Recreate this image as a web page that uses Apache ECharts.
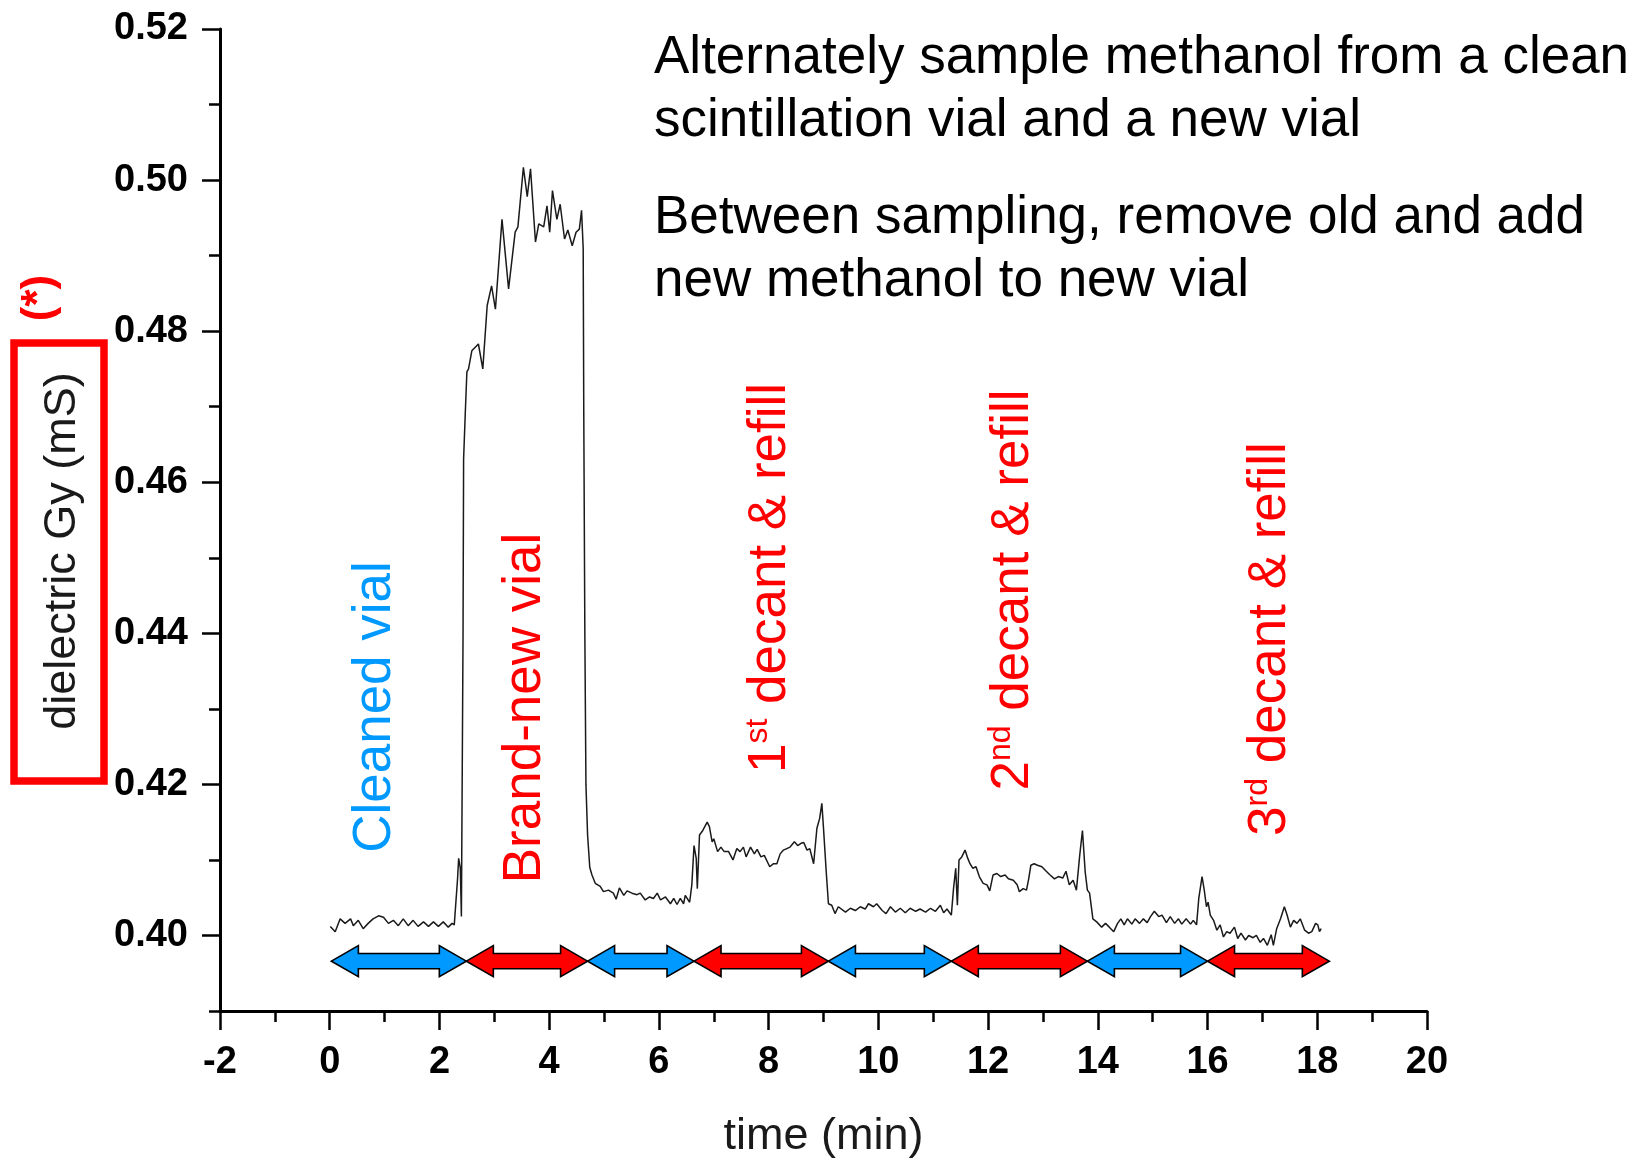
<!DOCTYPE html>
<html>
<head>
<meta charset="utf-8">
<script src="https://cdn.jsdelivr.net/npm/echarts@6/dist/echarts.min.js"></script>
<style>
  html, body { margin: 0; padding: 0; background: #fff; }
  #chart { width: 1651px; height: 1159px; }
</style>
</head>
<body>
<div id="chart"></div>
<script>
// ---- data ----
const timeMin = [
  0.01,0.10,0.19,0.28,0.38,0.43,0.52,0.61,0.70,0.79,
  0.89,0.98,1.07,1.16,1.25,1.34,1.43,1.52,1.61,1.71,
  1.80,1.89,1.98,2.07,2.16,2.23,2.27,2.33,2.35,2.38,
  2.40,2.43,2.44,2.47,2.50,2.53,2.59,2.71,2.79,2.87,
  2.95,3.02,3.14,3.26,3.38,3.43,3.53,3.60,3.66,3.75,
  3.81,3.90,3.96,4.01,4.06,4.14,4.20,4.28,4.34,4.42,
  4.49,4.55,4.59,4.62,4.63,4.65,4.67,4.70,4.74,4.78,
  4.84,4.93,4.99,5.08,5.17,5.22,5.28,5.36,5.42,5.51,
  5.60,5.66,5.75,5.83,5.90,5.97,6.03,6.12,6.21,6.27,
  6.33,6.39,6.45,6.48,6.56,6.60,6.64,6.68,6.70,6.74,
  6.80,6.88,6.92,6.97,7.00,7.07,7.13,7.19,7.27,7.35,
  7.42,7.48,7.54,7.59,7.67,7.74,7.79,7.86,7.92,8.02,
  8.09,8.15,8.21,8.27,8.33,8.39,8.47,8.53,8.59,8.64,
  8.70,8.75,8.82,8.88,8.93,8.97,9.00,9.05,9.09,9.15,
  9.21,9.27,9.40,9.49,9.58,9.67,9.76,9.82,9.91,9.97,
  10.07,10.14,10.22,10.31,10.40,10.49,10.58,10.68,10.76,10.86,
  10.95,11.04,11.13,11.19,11.25,11.33,11.37,11.41,11.44,11.47,
  11.52,11.58,11.63,11.67,11.72,11.78,11.84,11.91,11.98,12.03,
  12.09,12.16,12.23,12.31,12.37,12.46,12.53,12.57,12.64,12.70,
  12.74,12.78,12.84,12.90,12.98,13.06,13.13,13.21,13.28,13.36,
  13.42,13.48,13.55,13.61,13.67,13.72,13.77,13.81,13.85,13.91,
  13.98,14.07,14.14,14.21,14.29,14.36,14.42,14.48,14.54,14.62,
  14.68,14.76,14.83,14.90,14.96,15.03,15.11,15.17,15.25,15.32,
  15.40,15.47,15.53,15.61,15.69,15.74,15.80,15.84,15.90,15.94,
  15.98,16.01,16.05,16.11,16.17,16.23,16.29,16.35,16.41,16.49,
  16.55,16.61,16.69,16.75,16.83,16.89,16.96,17.02,17.09,17.16,
  17.20,17.26,17.33,17.40,17.45,17.51,17.57,17.63,17.69,17.77,
  17.84,17.90,17.97,18.01,18.04,18.07
];
const gyMs = [
  .4012,.4005,.4022,.4016,.4022,.4013,.4020,.4009,.4016,.4022,
  .4026,.4024,.4016,.4020,.4013,.4022,.4013,.4020,.4012,.4018,
  .4012,.4018,.4012,.4018,.4011,.4016,.4014,.4075,.4102,.4089,
  .4025,.4400,.4630,.4690,.4746,.4750,.4774,.4783,.4750,.4834,
  .4860,.4829,.4948,.4856,.4931,.4938,.5017,.4978,.5015,.4918,
  .4942,.4938,.4966,.4931,.4986,.4948,.4968,.4922,.4934,.4913,
  .4931,.4935,.4960,.4909,.4700,.4400,.4200,.4133,.4090,.4080,
  .4069,.4065,.4058,.4060,.4056,.4048,.4063,.4053,.4059,.4056,
  .4054,.4056,.4047,.4051,.4049,.4056,.4047,.4051,.4042,.4049,
  .4041,.4049,.4042,.4053,.4044,.4067,.4119,.4102,.4062,.4133,
  .4139,.4150,.4144,.4124,.4128,.4111,.4117,.4111,.4111,.4100,
  .4115,.4111,.4117,.4104,.4117,.4108,.4114,.4104,.4106,.4091,
  .4095,.4095,.4108,.4113,.4115,.4117,.4124,.4119,.4122,.4123,
  .4113,.4115,.4095,.4142,.4155,.4175,.4142,.4084,.4042,.4040,
  .4029,.4038,.4031,.4036,.4033,.4038,.4035,.4042,.4038,.4042,
  .4033,.4029,.4038,.4031,.4036,.4030,.4036,.4032,.4035,.4031,
  .4036,.4032,.4040,.4030,.4035,.4027,.4062,.4089,.4040,.4100,
  .4104,.4113,.4102,.4095,.4089,.4091,.4078,.4069,.4067,.4059,
  .4080,.4082,.4078,.4080,.4075,.4073,.4067,.4058,.4062,.4060,
  .4075,.4093,.4095,.4093,.4091,.4085,.4080,.4075,.4078,.4076,
  .4085,.4067,.4073,.4060,.4106,.4139,.4084,.4060,.4056,.4022,
  .4018,.4011,.4016,.4011,.4005,.4016,.4022,.4014,.4022,.4015,
  .4022,.4016,.4022,.4017,.4025,.4032,.4025,.4027,.4017,.4025,
  .4016,.4022,.4015,.4022,.4015,.4020,.4014,.4049,.4078,.4060,
  .4038,.4044,.4027,.4020,.4007,.4014,.3998,.4005,.4003,.4011,
  .3996,.4003,.3994,.4000,.3997,.4000,.3991,.3996,.3987,.4001,
  .3987,.4009,.4022,.4038,.4027,.4011,.4020,.4016,.4022,.4007,
  .4003,.4005,.4016,.4014,.4005,.4009
];
// sampling periods shown as double arrows (start, end, kind)
const periodStart = [0.03, 2.49, 4.70, 6.64, 9.09, 11.33, 13.81, 16.00];
const periodEnd   = [2.49, 4.70, 6.64, 9.09, 11.33, 13.81, 16.00, 18.22];
const periodKind  = ['clean','new','clean','new','clean','new','clean','new'];
const arrowLevel = 0.3966;
const yLabelTicks = [0.40, 0.42, 0.44, 0.46, 0.48, 0.50, 0.52];
const yMinorTicks = [0.39, 0.41, 0.43, 0.45, 0.47, 0.49, 0.51];

// ---- chart ----
const FONT = '"Liberation Sans", Arial, sans-serif';
const BLUE = '#0099ff';
const RED = '#ff0000';

const traceData = timeMin.map((t, i) => [t, gyMs[i]]);
const arrowData = periodStart.map((s, i) => [s, periodEnd[i], arrowLevel, periodKind[i] === 'clean' ? 0 : 1]);

const chart = echarts.init(document.getElementById('chart'), null, { renderer: 'canvas' });

const axisLineStyle = { color: '#000', width: 3 };

function decantLabel(x, y, n, sup) {
  return {
    type: 'text', x: x, y: y, rotation: Math.PI / 2,
    style: { text: '{m|' + n + '}{s|' + sup + '}{m| decant & refill}', align: 'center', verticalAlign: 'middle',
             rich: { m: { fontSize: 53, fontFamily: FONT, fill: RED, lineHeight: 56 },
                     s: { fontSize: 32, fontFamily: FONT, fill: RED, lineHeight: 56, verticalAlign: 'top' } } }
  };
}

chart.setOption({
  backgroundColor: '#ffffff',
  animation: false,
  grid: { left: 220, right: 224, top: 29, bottom: 148, outerBoundsMode: 'none' },
  xAxis: {
    type: 'value', min: -2, max: 20, interval: 2,
    name: 'time (min)', nameLocation: 'middle', nameGap: 103,
    nameTextStyle: { fontFamily: FONT, fontSize: 45, color: '#1a1a1a' },
    axisLine: { show: true, onZero: false, lineStyle: axisLineStyle },
    axisTick: { show: true, inside: false, length: 19, lineStyle: { color: '#000', width: 2.5 } },
    minorTick: { show: true, splitNumber: 2, length: 11, lineStyle: { color: '#000', width: 2.5 } },
    axisLabel: { fontFamily: FONT, fontSize: 38, fontWeight: 'bold', color: '#000', margin: 33 },
    splitLine: { show: false }, minorSplitLine: { show: false }
  },
  yAxis: [{
    type: 'value', min: 0.39, max: 0.52,
    axisLine: { show: true, onZero: false, lineStyle: axisLineStyle },
    axisTick: { show: true, inside: false, length: 18, customValues: yLabelTicks, lineStyle: { color: '#000', width: 2.5 } },
    axisLabel: { fontFamily: FONT, fontSize: 38, fontWeight: 'bold', color: '#000', margin: 32,
                 customValues: yLabelTicks, formatter: v => v.toFixed(2) },
    splitLine: { show: false }
  }, {
    type: 'value', min: 0.39, max: 0.52, position: 'left', offset: 0,
    axisLine: { show: false, onZero: false },
    axisTick: { show: true, inside: false, length: 11, customValues: yMinorTicks, lineStyle: { color: '#000', width: 2.5 } },
    axisLabel: { show: false },
    splitLine: { show: false }
  }],
  series: [{
    type: 'line', data: traceData, showSymbol: false, symbol: 'none',
    lineStyle: { color: '#1a1a1a', width: 1.5 }, z: 3
  }, {
    type: 'custom', data: arrowData, z: 4,
    renderItem: function (params, api) {
      const p1 = api.coord([api.value(0), api.value(2)]);
      const p2 = api.coord([api.value(1), api.value(2)]);
      const x1 = p1[0], x2 = p2[0], y = p1[1];
      const hl = 27, hh = 15.5, sh = 7.6;
      const pts = [
        [x1, y], [x1 + hl, y - hh], [x1 + hl, y - sh], [x2 - hl, y - sh], [x2 - hl, y - hh],
        [x2, y], [x2 - hl, y + hh], [x2 - hl, y + sh], [x1 + hl, y + sh], [x1 + hl, y + hh]
      ];
      return {
        type: 'polygon',
        shape: { points: pts },
        style: { fill: api.value(3) === 0 ? BLUE : RED, stroke: '#000', lineWidth: 1.6 }
      };
    }
  }],
  graphic: [
    { type: 'rect', shape: { x: 14, y: 343, width: 90, height: 438 },
      style: { fill: 'none', stroke: RED, lineWidth: 7.5 } },
    { type: 'text', x: 63, y: 551, rotation: Math.PI / 2,
      style: { text: 'dielectric Gy (mS)', fill: '#1a1a1a', fontSize: 45, fontFamily: FONT, align: 'center', verticalAlign: 'middle' } },
    { type: 'text', x: 40, y: 298, rotation: Math.PI / 2,
      style: { text: '(*)', fill: RED, fontSize: 44, fontWeight: 'bold', fontFamily: FONT, align: 'center', verticalAlign: 'middle' } },
    { type: 'text', left: 654, top: 27,
      style: { text: 'Alternately sample methanol from a clean\nscintillation vial and a new vial', fill: '#000',
               fontSize: 53, fontFamily: FONT, lineHeight: 63 } },
    { type: 'text', left: 654, top: 187,
      style: { text: 'Between sampling, remove old and add\nnew methanol to new vial', fill: '#000',
               fontSize: 53, fontFamily: FONT, lineHeight: 63 } },
    { type: 'text', x: 375, y: 707, rotation: Math.PI / 2,
      style: { text: 'Cleaned vial', fill: BLUE, fontSize: 53, fontFamily: FONT, align: 'center', verticalAlign: 'middle' } },
    { type: 'text', x: 525, y: 708, rotation: Math.PI / 2,
      style: { text: 'Brand-new vial', fill: RED, fontSize: 53, fontFamily: FONT, align: 'center', verticalAlign: 'middle' } },
    decantLabel(770, 578, '1', 'st'),
    decantLabel(1013, 590, '2', 'nd'),
    decantLabel(1270, 639, '3', 'rd')
  ]
});
</script>
</body>
</html>
